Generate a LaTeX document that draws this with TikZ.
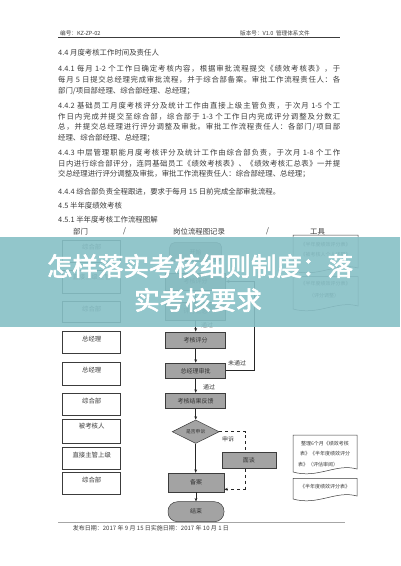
\documentclass[tikz,border=0pt]{standalone}
\usepackage{fontspec}
\newfontfamily\cjk{Noto Sans CJK SC}
\newfontfamily\cjkb[FakeBold=2.5]{Noto Sans CJK SC}
\usetikzlibrary{arrows.meta,shapes.geometric}
\XeTeXinterchartokenstate=1
\newXeTeXintercharclass\cjkc
\newcount\cjkn
\cjkn="4E00
\loop \XeTeXcharclass\cjkn=\cjkc \advance\cjkn by 1 \ifnum\cjkn<"A000 \repeat
\cjkn="3000
\loop \XeTeXcharclass\cjkn=\cjkc \advance\cjkn by 1 \ifnum\cjkn<"3040 \repeat
\cjkn="FF00
\loop \XeTeXcharclass\cjkn=\cjkc \advance\cjkn by 1 \ifnum\cjkn<"FFF0 \repeat
\XeTeXinterchartoks\cjkc\cjkc={\hskip0pt plus 1pt\relax}
\XeTeXinterchartoks\cjkc 0={\hskip0pt plus 1pt\relax}
\XeTeXinterchartoks 0\cjkc={\hskip0pt plus 1pt\relax}
\newcommand\jl[1]{\makebox[282pt][s]{#1}}
\definecolor{bannerc}{RGB}{135,192,198}
\definecolor{boxg}{RGB}{163,163,163}
\definecolor{inkc}{RGB}{60,60,60}
\tikzset{
  ln/.style={anchor=west,inner sep=0pt,text=inkc,font=\cjk\fontsize{7.4}{8}\selectfont},
  hd/.style={anchor=west,inner sep=0pt,text=inkc,font=\cjk\fontsize{5.6}{6}\selectfont},
  lbox/.style={draw=inkc,line width=0.5pt,fill=white,minimum width=58pt,inner sep=0pt},
  ltxt/.style={anchor=north,inner sep=0pt,yshift=-4.5pt,text=inkc,font=\cjk\fontsize{6.4}{7}\selectfont},
  pbox/.style={draw=inkc,line width=0.5pt,fill=boxg,minimum width=60pt,inner sep=0pt,text=black!80,font=\cjk\fontsize{6}{7}\selectfont},
  tbox/.style={inner sep=0pt,text=inkc,font=\cjk\fontsize{5}{6}\selectfont},
  arr/.style={draw=black!85,line width=0.5pt,-{Stealth[length=3.5pt,width=2.8pt]}},
  dsh/.style={draw=black!85,line width=0.5pt,dashed},
  docs/.style={draw=inkc,line width=0.5pt,fill=white},
  lab/.style={inner sep=0pt,text=inkc,font=\cjk\fontsize{6}{7}\selectfont}
}
\begin{document}
\begin{tikzpicture}[x=1pt,y=-1pt]
\fill[white] (0,0) rectangle (400,566);
\useasboundingbox (0,0) rectangle (400,566);
% header
\node[hd] (h1) at (60,33) {编号：KZ-ZP-02};
\node[hd] (h2) at (240,33) {版本号：V1.0\ \ 管理体系文件};
\draw[inkc,line width=0.5pt] (58,37.7) -- (340,37.7);
% body text
\node[ln] (t1) at (58,53) {4.4 月度考核工作时间及责任人};
\node[ln] (t2) at (58,69) {\jl{4.4.1 每月 1-2 个工作日确定考核内容，根据审批流程提交《绩效考核表》，于}};
\node[ln] (t3) at (58,80) {\jl{每月 5 日提交总经理完成审批流程，并于综合部备案。审批工作流程责任人：各}};
\node[ln] (t4) at (58,91) {部门/项目部经理、综合部经理、总经理；};
\node[ln] (t5) at (58,106) {\jl{4.4.2 基础员工月度考核评分及统计工作由直接上级主管负责，于次月 1-5 个工}};
\node[ln] (t6) at (58,116.5) {\jl{作日内完成并提交至综合部，综合部于 1-3 个工作日内完成评分调整及分数汇}};
\node[ln] (t7) at (58,127) {\jl{总，并提交总经理进行评分调整及审批。审批工作流程责任人：各部门/项目部}};
\node[ln] (t8) at (58,137.5) {经理、综合部经理、总经理；};
\node[ln] (t9) at (58,153) {\jl{4.4.3 中层管理职能月度考核评分及统计工作由综合部负责，于次月 1-8 个工作}};
\node[ln] (t10) at (58,163.5) {\jl{日内进行综合部评分，连同基础员工《绩效考核表》、《绩效考核汇总表》一并提}};
\node[ln] (t11) at (58,174) {交总经理进行评分调整及审批，审批工作流程责任人：综合部经理、总经理；};
\node[ln] (t12) at (58,191.7) {4.4.4 综合部负责全程跟进，要求于每月 15 日前完成全部审批流程。};
\node[ln] (t13) at (58,206) {4.5 半年度绩效考核};
\node[ln] (t14) at (58,220) {4.5.1 半年度考核工作流程图解};
\node[ln] (c1) at (73,231.7) {部门};
\node[ln] (c2) at (123,231.7) {/};
\node[ln] (c3) at (173,231.7) {岗位流程图记录};
\node[ln] (c4) at (266,231.7) {/};
\node[ln] (c5) at (310,231.7) {工具};
% left department boxes
\node[lbox,minimum height=22pt,label={[ltxt]north:综合部}] (l1) at (91.7,251) {};
\node[lbox,minimum height=23pt,label={[ltxt]north:直接上级主管}] (l2) at (91.7,281.5) {};
\node[lbox,minimum height=21pt,label={[ltxt]north:综合部}] (l3) at (91.7,311.8) {};
\node[lbox,minimum height=21.6pt,label={[ltxt]north:总经理}] (l4) at (91.7,342.5) {};
\node[lbox,minimum height=22.7pt,label={[ltxt]north:总经理}] (l5) at (91.7,373.6) {};
\node[lbox,minimum height=21.7pt,label={[ltxt]north:综合部}] (l6) at (91.7,404.2) {};
\node[lbox,minimum height=24pt,label={[ltxt]north:被考核人}] (l7) at (91.7,431) {};
\node[lbox,minimum height=22pt,label={[ltxt]north:直接主管上级}] (l8) at (91.7,458.3) {};
\node[lbox,minimum height=21.7pt,label={[ltxt]north:综合部}] (l9) at (91.7,483.2) {};
% process column
\node[pbox,minimum width=52pt,minimum height=19pt,rounded corners=5pt] (st) at (195.7,252) {开始};
\node[pbox,minimum height=17pt] (pa) at (195.7,281.5) {考核评分};
\node[pbox,minimum height=18pt] (pb) at (195.7,311) {评分汇总};
\node[pbox,minimum height=16.5pt] (pc) at (195.7,340) {考核评分};
\node[pbox,minimum height=15.5pt] (pd) at (195.7,370.7) {总经理审批};
\node[pbox,minimum height=15.5pt] (pe) at (195.7,400.8) {考核结果反馈};
\node[pbox,diamond,aspect=2,minimum width=47pt,minimum height=23.5pt,font=\cjk\fontsize{4.8}{5}\selectfont] (dia) at (195.7,431.7) {是否申诉};
\node[pbox,minimum width=54pt,minimum height=15.6pt] (mt) at (248.9,460.5) {面谈};
\node[pbox,minimum width=56pt,minimum height=18.7pt] (ba) at (196,482.4) {备案};
\node[pbox,minimum width=56pt,minimum height=20pt,rounded corners=9.5pt] (en) at (196,511.7) {结束};
% connectors
\draw[arr] (st) -- (pa);
\draw[arr] (pa) -- (pb);
\draw[arr] (pb) -- (pc);
\node[lab,anchor=west] (lb1) at (201,325) {通过};
\draw[arr] (pc) -- (pd);
\draw[arr] (pd) -- (pe);
\node[lab,anchor=west] (lb2) at (203,386.7) {通过};
\draw[arr] (pe) -- (dia);
\draw[arr] (dia.south) -- (dia.south |- ba.north);
\draw[arr] (ba) -- (en);
\coordinate (lp) at (254,370.7);
\draw[arr] (pd.east) -- (lp) |- (pa.east);
\node[lab,anchor=west] (lb3) at (228,363.3) {未通过};
\coordinate (d1) at (245.7,431.7);
\draw[dsh] (dia.east) -- (d1) -- (d1 |- mt.north);
\node[lab,anchor=west] (lb4) at (222,438.8) {申诉};
\coordinate (d2) at (245.7,489.3);
\draw[dsh] (d1 |- mt.south) -- (d2);
\draw[dsh,-{Stealth[length=3.5pt,width=2.8pt]}] (d2) -- (d2 -| ba.east);
% tool documents
\draw[docs] (293,235) -- (358,235) -- (358,268) .. controls (337,262) and (318,278) .. (293,271) -- cycle;
\node[tbox] (dt1) at (325.5,245) {《半年度绩效评分表》};
\node[tbox] (dt2) at (325.5,255) {《被考核人个人述职》};
\draw[docs] (293,276.7) -- (358,276.7) -- (358,306) .. controls (337,300) and (318,316) .. (293,309) -- cycle;
\node[tbox] (dt3) at (325.5,284) {《半年度绩效评分表》};
\node[tbox] (dt4) at (324,295.5) {（评分调整）};
\draw[docs] (293,435) -- (357,435) -- (357,469) .. controls (336,463) and (318,479) .. (293,472) -- cycle;
\node[tbox] (dt5) at (325,443.3) {整理6个月《绩效考核};
\node[tbox] (dt6) at (325,454) {表》《半年度绩效评分};
\node[tbox] (dt7) at (318,465) {表》（评估审阅）};
\draw[docs] (293,478.3) -- (357,478.3) -- (357,496) .. controls (336,490) and (318,506) .. (293,499) -- cycle;
\node[tbox] (dt8) at (325,486.7) {《半年度绩效评分表》};
% footer
\draw[black!35,line width=0.5pt] (58,522.7) -- (345,522.7);
\node[hd,font=\cjk\fontsize{6}{7}\selectfont] (ft) at (72.7,528.5) {发布日期：2017 年 9 月 15 日实施日期：2017 年 10 月 1 日};
% banner
\fill[bannerc,opacity=0.9] (0,237) rectangle (400,327);
\node[inner sep=0pt,text=white,font=\cjkb\fontsize{25.5}{26}\selectfont] (bt1) at (200,266) {怎样落实考核细则制度：落};
\node[inner sep=0pt,text=white,font=\cjkb\fontsize{25.5}{26}\selectfont] (bt2) at (198,300) {实考核要求};
\end{tikzpicture}
\end{document}
